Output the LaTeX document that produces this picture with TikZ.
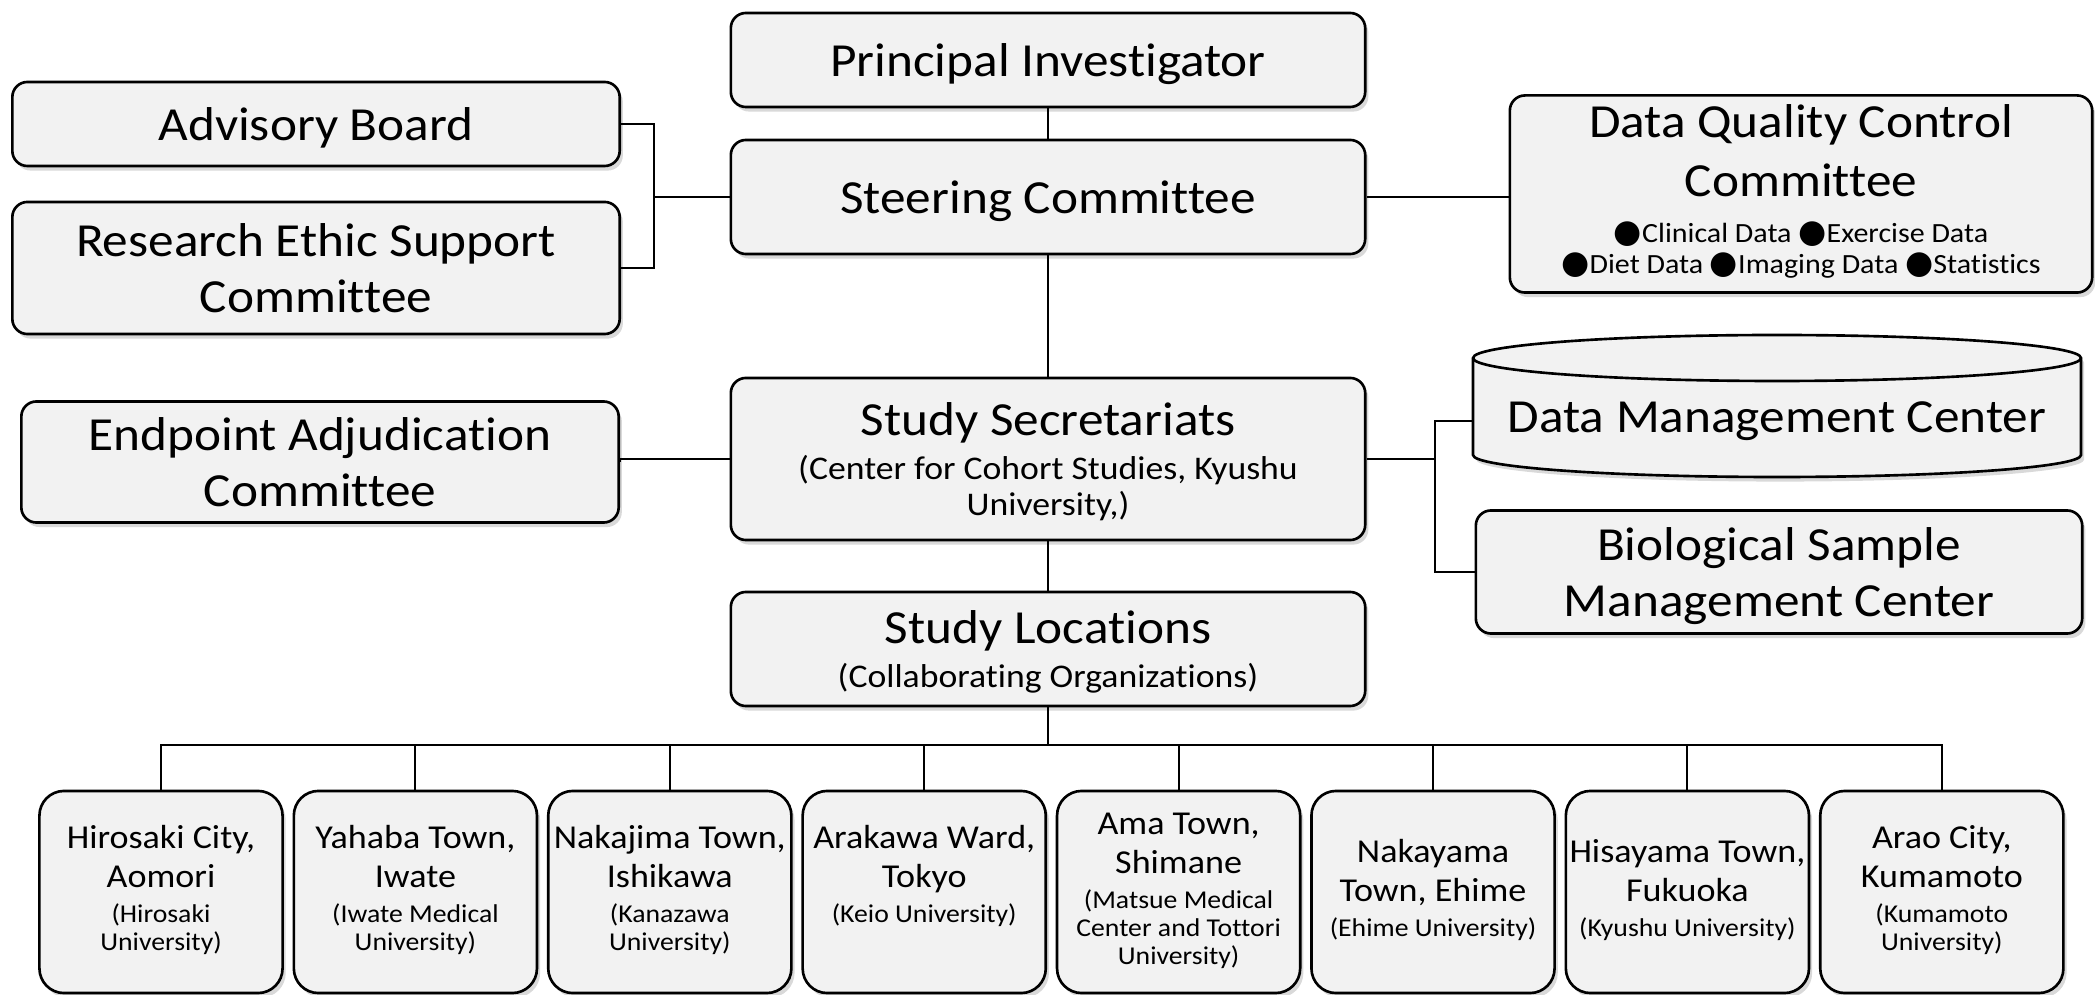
\documentclass[tikz,border=0pt]{standalone}
\usepackage{fontspec}
\setmainfont{Carlito}[FakeStretch=1.08, Ligatures=NoCommon]
\newfontfamily\dotfont{DejaVu Sans}
\usetikzlibrary{shadows}
\definecolor{boxgray}{HTML}{F2F2F2}
\newcommand{\bul}{{\dotfont\fontsize{9.2}{9}\selectfont\char"25CF}}
\newcommand{\subtext}{\fontsize{9.4}{11}\selectfont}
\newcommand{\dotline}{\fontsize{7.9}{9}\selectfont}
\newcommand{\sitesub}{\fontsize{7.3}{8.2}\selectfont}

\begin{document}
\begin{tikzpicture}[x=0.01cm, y=-0.01cm,
		shade/.style={drop shadow={shadow xshift=0.9pt, shadow yshift=-1.3pt, opacity=0.3}},
		box/.style 2 args={draw, line width=0.75pt, fill=boxgray, rounded corners=4.3pt, shade, align=center, inner sep=0pt, text depth=0pt, minimum width=#1, minimum height=#2, font=\fontsize{13.5}{16}\selectfont},
		site/.style={box={2.43cm}{2.02cm}, rounded corners=7pt, text depth={}, font=\fontsize{9.5}{11}\selectfont},
		link/.style={line width=0.6pt}]
	\useasboundingbox (0,0) rectangle (2095,995);
	\node[box={6.34cm}{0.94cm}] (pi) at (1048,60) {Principal Investigator};
	\node[box={6.34cm}{1.14cm}] (steer) at (1048,197) {Steering Committee};
	\node[box={6.07cm}{0.84cm}] (adv) at (316,124) {Advisory Board};
	\node[box={6.07cm}{1.32cm}] (ethic) at (316,268) {Research Ethic Support\\Committee};
	\node[box={5.97cm}{1.21cm}] (endp) at (320,462) {Endpoint Adjudication\\Committee};
	\node[box={6.34cm}{1.62cm}] (secr) at (1048,459) {Study Secretariats\\[-3.4pt]\subtext (Center for Cohort Studies, Kyushu\\[-5.7pt]\subtext University,)};
	\node[box={6.34cm}{1.14cm}] (loc) at (1048,649) {Study Locations\\[-3.4pt]\subtext (Collaborating Organizations)};
	\node[box={5.82cm}{1.97cm}, text depth={}] (dqcc) at (1801,194) {\raisebox{-4pt}{\begin{tabular}{@{}c@{}}Data Quality Control\\[0.8pt]Committee\\[-2.9pt]\dotline \bul Clinical Data \bul Exercise Data\\[-7.2pt]\dotline \bul Diet Data \bul Imaging Data \bul Statistics\end{tabular}}};
	\draw[line width=0.75pt, fill=boxgray, shade] (1473,358) -- (1473,455) arc[start angle=180, end angle=0, x radius=304, y radius=22] -- (2081,358) arc[start angle=0, end angle=-180, x radius=304, y radius=23] -- cycle;
	\draw[line width=0.75pt] (1473,358) arc[start angle=180, end angle=0, x radius=304, y radius=23];
	\node[minimum width=6.08cm, inner sep=0pt, font=\fontsize{13.5}{16}\selectfont] (dmc) at (1777,421) {Data Management Center};
	\node[box={6.06cm}{1.23cm}] (bio) at (1779,572) {Biological Sample\\Management Center};
	\foreach \m/\n/\s [count=\i] in {{Hirosaki City,}/Aomori/{(Hirosaki\\[-3pt]\sitesub University)}, {Yahaba Town,}/Iwate/{(Iwate Medical\\[-3pt]\sitesub University)}, {Nakajima Town,}/Ishikawa/{(Kanazawa\\[-3pt]\sitesub University)}, {Arakawa Ward,}/Tokyo/{(Keio University)\\[-3pt]~}, {Ama Town,}/Shimane/{(Matsue Medical\\[-3pt]\sitesub Center and Tottori\\[-3pt]\sitesub University)}, {Nakayama}/{Town, Ehime}/{(Ehime University)}, {Hisayama Town,}/Fukuoka/{(Kyushu University)}, {Arao City,}/Kumamoto/{(Kumamoto\\[-3pt]\sitesub University)}}
		\node[site] (site\i) at ({161+254.4*(\i-1)},892) {\raisebox{-3.5pt}{\begin{tabular}{@{}c@{}}\m\\\n\\[-1.1pt]\sitesub \s\end{tabular}}};
	\coordinate (lbus) at (654,197);
	\coordinate (rbus) at (1435,459);
	\coordinate (bus) at (1048,745);
	\draw[link] (pi) -- (steer);
	\draw[link] (adv.east) -- (adv.east -| lbus) -- (ethic.east -| lbus) -- (ethic.east);
	\draw[link] (lbus) -- (steer.west);
	\draw[link] (steer.east) -- (steer.east -| dqcc.west);
	\draw[link] (steer) -- (secr);
	\draw[link] (endp.east) -- (secr.west -| endp.east) -- (secr.west);
	\draw[link] (secr.east) -- (rbus);
	\draw[link] (dmc.west) -- (dmc.west -| rbus) -- (bio.west -| rbus) -- (bio.west);
	\draw[link] (secr) -- (loc);
	\draw[link] (loc.south) -- (bus);
	\draw[link] (site1.north) |- (bus) -| (site8.north);
	\foreach \i in {2,...,7} { \draw[link] (site\i.north |- bus) -- (site\i.north); }
\end{tikzpicture}
\end{document}
